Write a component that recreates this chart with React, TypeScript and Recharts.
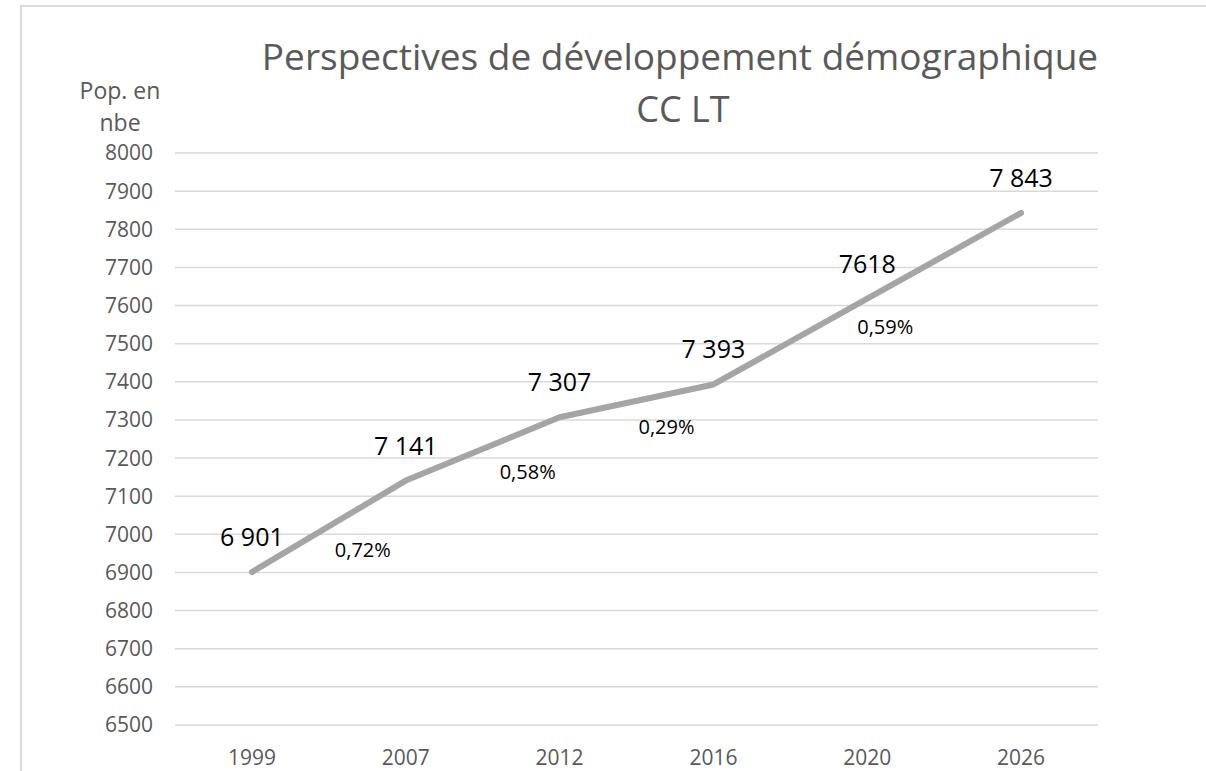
import React from "react";
import {
  LineChart,
  Line,
  XAxis,
  YAxis,
  CartesianGrid,
  LabelList,
  ReferenceDot,
} from "recharts";

// values
const years = ["1999", "2007", "2012", "2016", "2020", "2026"];
const population = [6901, 7141, 7307, 7393, 7618, 7843];
const populationLabels = ["6 901", "7 141", "7 307", "7 393", "7618", "7 843"];
const yTicks = [6500, 6600, 6700, 6800, 6900, 7000, 7100, 7200, 7300, 7400, 7500, 7600, 7700, 7800, 7900, 8000];

// annual growth rates and the period (start/end year) they cover
const growthRates = ["0,72%", "0,58%", "0,29%", "0,59%"];
const rateFrom = ["1999", "2007", "2012", "2016"];
const rateTo = ["2007", "2012", "2016", "2026"];

// layout only: where each rate sits relative to the middle of its period (px)
const rateNudge = [
  [34, 24],
  [45, 23],
  [30, 26],
  [18, 28],
];

const data = years.map((y, i) => ({
  idx: i,
  year: y,
  pop: population[i],
  label: populationLabels[i],
}));

const rateMarks = growthRates.map((r, i) => {
  const a = years.indexOf(rateFrom[i]);
  const b = years.indexOf(rateTo[i]);
  return {
    text: r,
    x: (a + b) / 2,
    y: (population[a] + population[b]) / 2,
    dx: rateNudge[i][0],
    dy: rateNudge[i][1],
  };
});

const TEXT_GREY = "#595959";

const ValueLabel = (props: any) => {
  const { x, y, value } = props;
  return (
    <text x={x} y={y - 26} textAnchor="middle" fontSize={25} fill="#000">
      {value}
    </text>
  );
};

export default function App() {
  return (
    <div
      style={{
        position: "absolute",
        left: 0,
        top: 0,
        width: 1206,
        height: 771,
        overflow: "hidden",
        background: "#fff",
        fontFamily: "'Open Sans', sans-serif",
      }}
    >
      <div
        style={{
          position: "absolute",
          left: 20,
          top: 5,
          width: 1300,
          height: 900,
          border: "2px solid #d9d9d9",
        }}
      />
      <div
        style={{
          position: "absolute",
          left: 0,
          width: 1360,
          top: 33,
          textAlign: "center",
          fontSize: 37,
          lineHeight: "46px",
          color: TEXT_GREY,
        }}
      >
        Perspectives de développement démographique
      </div>
      <div
        style={{
          position: "absolute",
          left: 0,
          width: 1366,
          top: 86,
          textAlign: "center",
          fontSize: 36,
          lineHeight: "46px",
          color: TEXT_GREY,
        }}
      >
        CC LT
      </div>
      <div
        style={{
          position: "absolute",
          left: 68,
          width: 104,
          top: 74,
          textAlign: "center",
          fontSize: 23,
          lineHeight: "32px",
          color: TEXT_GREY,
        }}
      >
        Pop. en
        <br />
        nbe
      </div>
      <LineChart
        width={1206}
        height={771}
        data={data}
        margin={{ top: 153, right: 108, bottom: 0, left: 0 }}
        style={{ position: "absolute", left: 0, top: 0 }}
      >
        <CartesianGrid vertical={false} stroke="#d9d9d9" strokeWidth={1.5} />
        <XAxis
          dataKey="idx"
          type="number"
          domain={[-0.5, 5.5]}
          ticks={[0, 1, 2, 3, 4, 5]}
          tickFormatter={(v: number) => years[v]}
          axisLine={false}
          tickLine={false}
          tickSize={0}
          tickMargin={25}
          height={46}
          tick={{ fill: TEXT_GREY, fontSize: 21 }}
        />
        <YAxis
          domain={[6500, 8000]}
          ticks={yTicks}
          interval={0}
          axisLine={false}
          tickLine={false}
          tickSize={0}
          tickMargin={22}
          width={175}
          tick={{ fill: TEXT_GREY, fontSize: 21 }}
        />
        <Line
          type="linear"
          dataKey="pop"
          stroke="#a5a5a5"
          strokeWidth={6}
          strokeLinecap="round"
          strokeLinejoin="round"
          dot={false}
          isAnimationActive={false}
        >
          <LabelList dataKey="label" content={<ValueLabel />} />
        </Line>
        {rateMarks.map((m, i) => (
          <ReferenceDot
            key={i}
            x={m.x}
            y={m.y}
            r={1}
            shape={(p: any) => (
              <text
                x={p.cx + m.dx}
                y={p.cy + m.dy + 7}
                textAnchor="middle"
                fontSize={20}
                fill="#000"
              >
                {m.text}
              </text>
            )}
          />
        ))}
      </LineChart>
    </div>
  );
}
